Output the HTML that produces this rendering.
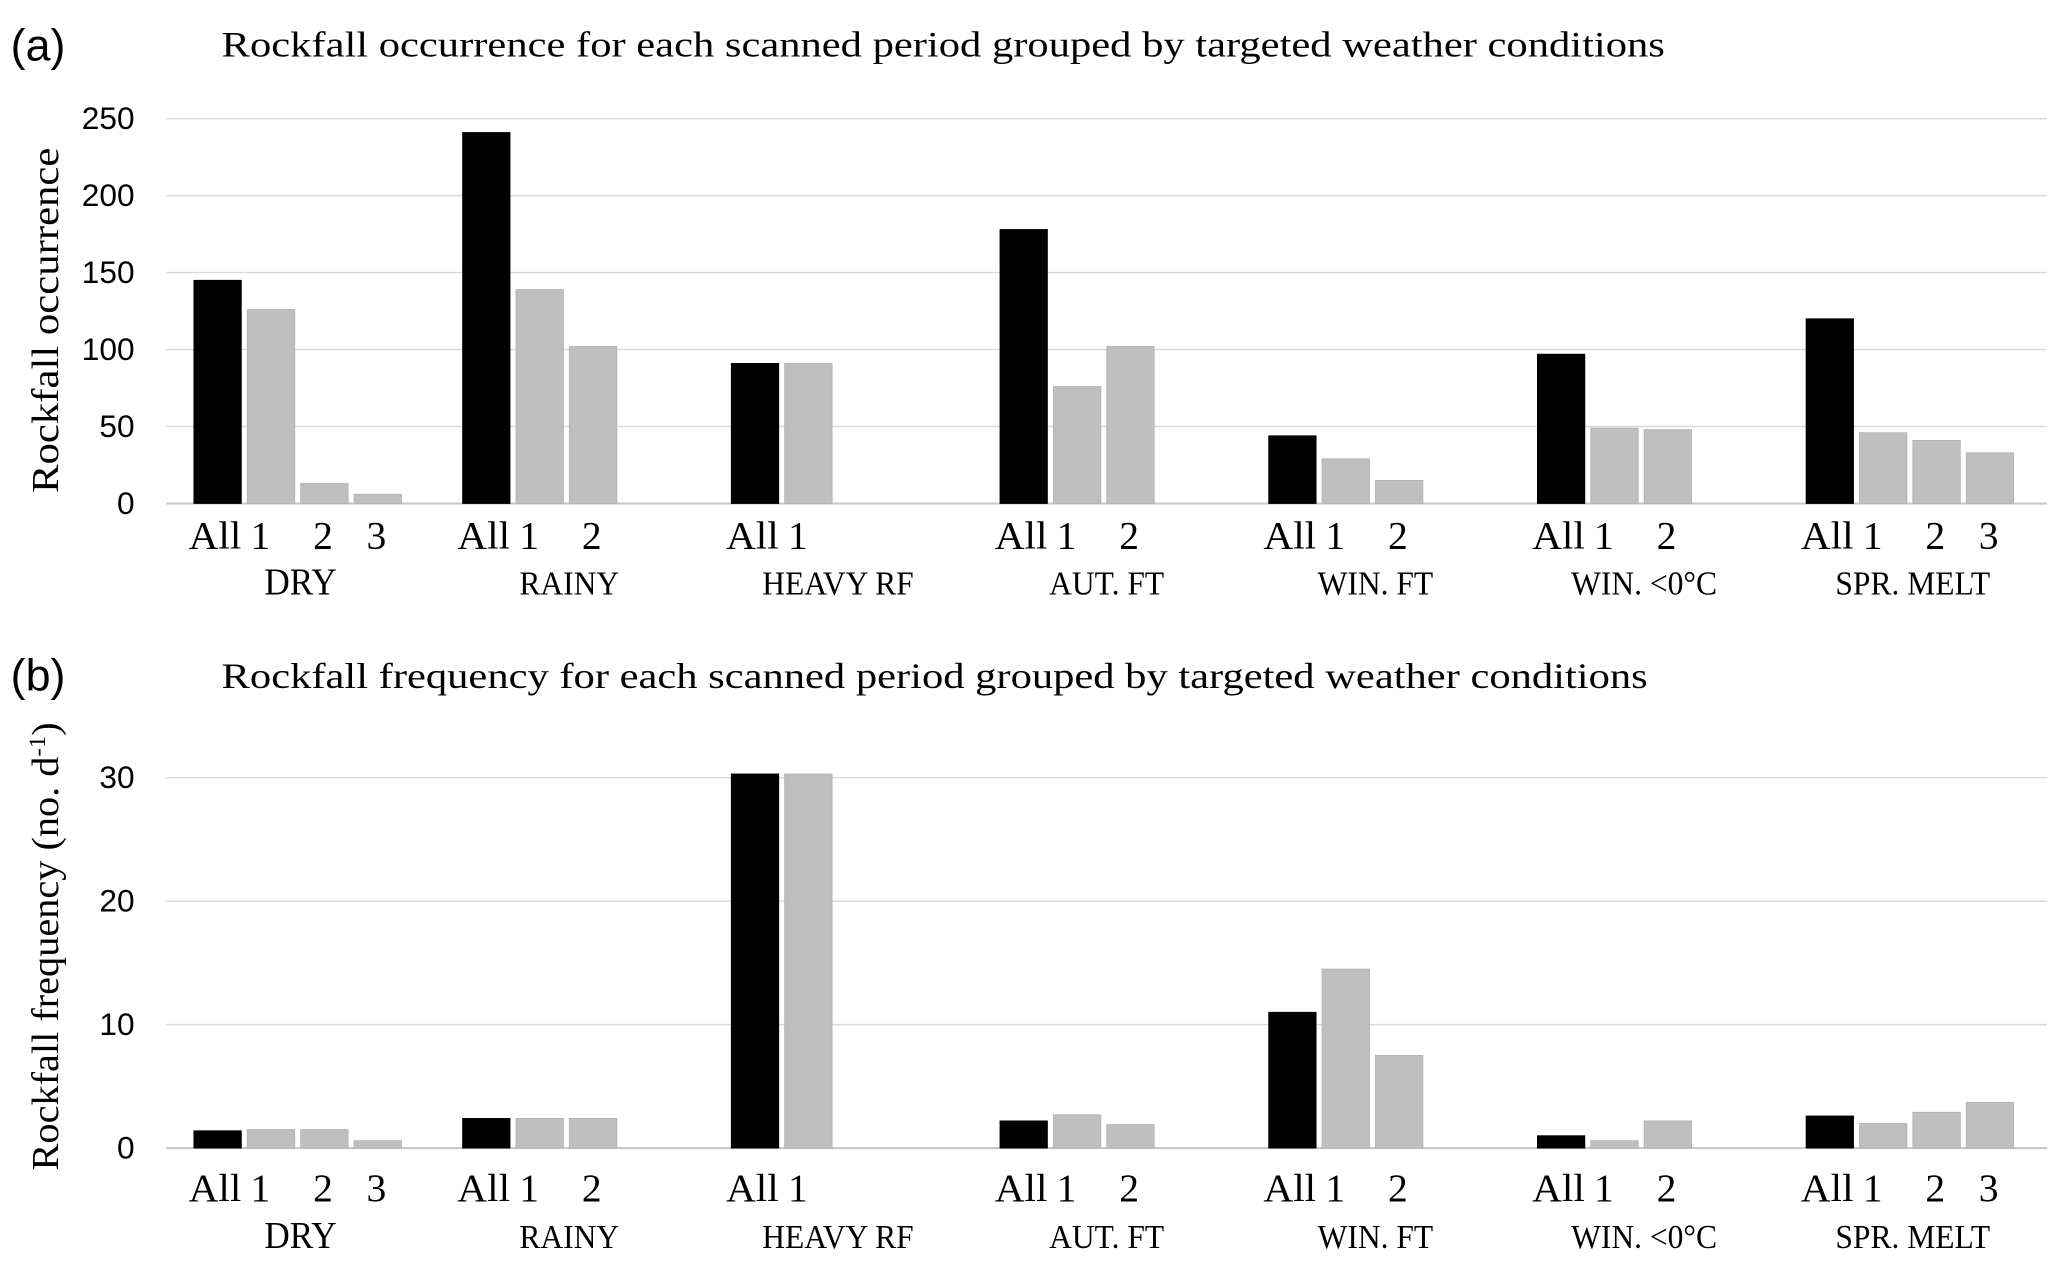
<!DOCTYPE html>
<html><head><meta charset="utf-8"><style>
html,body{margin:0;padding:0;background:#fff;}
svg{display:block;}
.serif{font-family:"Liberation Serif",serif;fill:#000;}
.sans{font-family:"Liberation Sans",sans-serif;fill:#000;}
</style></head><body>
<svg id="chart" width="2067" height="1268" viewBox="0 0 1568 962" xmlns="http://www.w3.org/2000/svg">
<text class="sans" x="8" y="46" font-size="34">(a)</text>
<text class="serif" x="168" y="43" font-size="27" textLength="1095" lengthAdjust="spacingAndGlyphs">Rockfall occurrence for each scanned period grouped by targeted weather conditions</text>
<text class="sans" x="8" y="524" font-size="34">(b)</text>
<text class="serif" x="168" y="522" font-size="27" textLength="1082" lengthAdjust="spacingAndGlyphs">Rockfall frequency for each scanned period grouped by targeted weather conditions</text>
<text class="serif" font-size="29" transform="translate(44,243) rotate(-90)" text-anchor="middle" textLength="262" lengthAdjust="spacingAndGlyphs">Rockfall occurrence</text>
<text class="serif" font-size="29" transform="translate(44,718) rotate(-90)" text-anchor="middle" textLength="340" lengthAdjust="spacingAndGlyphs">Rockfall frequency (no. d<tspan font-size="18" dy="-10">-1</tspan><tspan dy="10">)</tspan></text>
<g id="plots"></g>
</svg>
<script>
const categories = ["DRY","RAINY","HEAVY RF","AUT. FT","WIN. FT","WIN. <0°C","SPR. MELT"];
const periodLabels = [["All","1","2","3"],["All","1","2"],["All","1"],["All","1","2"],["All","1","2"],["All","1","2"],["All","1","2","3"]];
const occurrence = [[145,126,13,6],[241,139,102],[91,91],[178,76,102],[44,29,15],[97,49,48],[120,46,41,33]];
const frequency = [[1.4,1.5,1.5,0.6],[2.4,2.4,2.4],[30.3,30.3],[2.2,2.7,1.9],[11,14.5,7.5],[1.0,0.6,2.2],[2.6,2.0,2.9,3.7]];
const ticksA = [0,50,100,150,200,250];
const ticksB = [0,10,20,30];

const NS = "http://www.w3.org/2000/svg";
const root = document.getElementById("plots");
function mk(tag, attrs, parent){const e=document.createElementNS(NS,tag);for(const k in attrs)e.setAttribute(k,attrs[k]);(parent||root).appendChild(e);return e;}

function drawPanel(id, data, ticks, yTop, yBottom, maxV, tickLabY, catLabY){
  const g = mk("g",{});
  
  
  const x0=126, x1=1553, catW=(x1-x0)/categories.length;
  const y = v => yBottom - (v/maxV)*(yBottom-yTop);
  ticks.forEach(t=>{
    const gl = mk("line",{x1:x0,x2:x1,y1:y(t),y2:y(t),stroke:t===0?"#c8c8c8":"#d9d9d9","stroke-width":t===0?1.6:1.1},g);
    
    
    const tl = mk("text",{x:102,y:y(t)+8,"text-anchor":"end","font-size":24,class:"sans"},g);
    tl.textContent=t;
    
    
  });
  categories.forEach((c,ci)=>{
    const cx0 = x0 + ci*catW + 21;
    data[ci].forEach((v,bi)=>{
      const bx = cx0 + bi*40.5;
      const r = mk("rect",{x:bx,y:y(v),width:36,height:yBottom-y(v),fill:bi===0?"#000":"#bfbfbf",stroke:bi===0?"#000":"#b0b0b0","stroke-width":0.6},g);
      
      
      const lab = periodLabels[ci][bi];
      const lx = bx + 18 + (lab==="All"?-2:(lab==="1"?-8:-1));
      const t = mk("text",{x:lx,y:tickLabY,"text-anchor":"middle","font-size":30,class:"serif"},g);
      if(lab==="All"){t.setAttribute("textLength","40");t.setAttribute("lengthAdjust","spacingAndGlyphs");}
      t.textContent=lab;
      
      
    });
    const ct = mk("text",{x:x0+ci*catW+catW/2,y:catLabY,"text-anchor":"middle","font-size":ci===0?29:26,class:"serif",transform:"",},g);
    const cxm = x0+ci*catW+catW/2;
    ct.setAttribute("transform","translate("+cxm+",0) scale(0.92,1) translate("+(-cxm)+",0)");
    ct.textContent=c;
    
    
  });
}
drawPanel("occurrence", occurrence, ticksA, 90, 382, 250, 416, 451);
drawPanel("frequency", frequency, ticksB, 590, 871, 30, 911, 947);
</script>
</body></html>
